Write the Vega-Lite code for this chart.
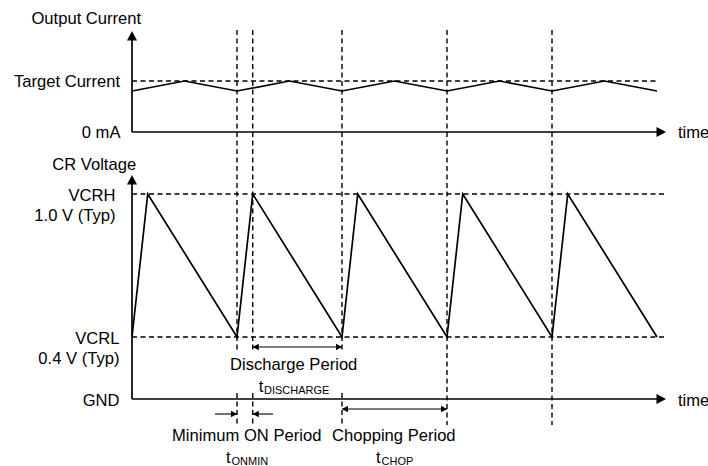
{
  "$schema": "https://vega.github.io/schema/vega-lite/v6.json",
  "width": 708,
  "height": 466,
  "padding": 0,
  "autosize": {"type": "none"},
  "background": "white",
  "config": {"view": {"stroke": null}, "text": {"font": "Liberation Sans"}},
  "datasets": {
    "dashed": [
      {"t": 0, "t2": 50, "level": 81, "level2": 81},
      {"t": 0, "t2": 50.95, "level": 194, "level2": 194},
      {"t": 0, "t2": 50.95, "level": 337, "level2": 337},
      {"t": 10, "t2": 10, "level": 30, "level2": 352},
      {"t": 10, "t2": 10, "level": 393, "level2": 425},
      {"t": 11.5, "t2": 11.5, "level": 30, "level2": 352},
      {"t": 11.5, "t2": 11.5, "level": 393, "level2": 425},
      {"t": 20, "t2": 20, "level": 30, "level2": 352},
      {"t": 20, "t2": 20, "level": 393, "level2": 425},
      {"t": 30, "t2": 30, "level": 30, "level2": 425},
      {"t": 40, "t2": 40, "level": 30, "level2": 425}
    ],
    "axes": [
      {"t": 0, "t2": 0, "level": 36, "level2": 132},
      {"t": 0, "t2": 50.4, "level": 132, "level2": 132},
      {"t": 0, "t2": 0, "level": 180, "level2": 399},
      {"t": 0, "t2": 50.4, "level": 399, "level2": 399}
    ],
    "spans": [
      {"t": 11.5, "t2": 20, "level": 347, "level2": 347},
      {"t": 20, "t2": 30, "level": 409, "level2": 409},
      {"t": 7.9, "t2": 10, "level": 414, "level2": 414},
      {"t": 11.5, "t2": 13.43, "level": 414, "level2": 414}
    ],
    "waves": [
      {"wave": "current", "i": 0, "t": 0, "level": 91},
      {"wave": "current", "i": 1, "t": 5, "level": 81},
      {"wave": "current", "i": 2, "t": 10, "level": 91},
      {"wave": "current", "i": 3, "t": 15, "level": 81},
      {"wave": "current", "i": 4, "t": 20, "level": 91},
      {"wave": "current", "i": 5, "t": 25, "level": 81},
      {"wave": "current", "i": 6, "t": 30, "level": 91},
      {"wave": "current", "i": 7, "t": 35, "level": 81},
      {"wave": "current", "i": 8, "t": 40, "level": 91},
      {"wave": "current", "i": 9, "t": 45, "level": 81},
      {"wave": "current", "i": 10, "t": 50, "level": 91},
      {"wave": "cr", "i": 0, "t": 0, "level": 337},
      {"wave": "cr", "i": 1, "t": 1.5, "level": 194},
      {"wave": "cr", "i": 2, "t": 10, "level": 337},
      {"wave": "cr", "i": 3, "t": 11.5, "level": 194},
      {"wave": "cr", "i": 4, "t": 20, "level": 337},
      {"wave": "cr", "i": 5, "t": 21.5, "level": 194},
      {"wave": "cr", "i": 6, "t": 30, "level": 337},
      {"wave": "cr", "i": 7, "t": 31.5, "level": 194},
      {"wave": "cr", "i": 8, "t": 40, "level": 337},
      {"wave": "cr", "i": 9, "t": 41.5, "level": 194},
      {"wave": "cr", "i": 10, "t": 50, "level": 337}
    ],
    "bigheads": [
      {"dir": "up", "t": 0, "level": 31},
      {"dir": "up", "t": 0, "level": 175},
      {"dir": "right", "t": 50.86, "level": 132},
      {"dir": "right", "t": 50.86, "level": 399}
    ],
    "smallheads": [
      {"dir": "left", "t": 11.5, "level": 347},
      {"dir": "right", "t": 20, "level": 347},
      {"dir": "left", "t": 20, "level": 409},
      {"dir": "right", "t": 30, "level": 409},
      {"dir": "right", "t": 10, "level": 414},
      {"dir": "left", "t": 11.5, "level": 414}
    ],
    "labels_right": [
      {"label": "Target Current", "t": -1.143, "level": 87},
      {"label": "0 mA", "t": -1.095, "level": 138},
      {"label": "VCRH", "t": -1.571, "level": 200.5},
      {"label": "1.0 V (Typ)", "t": -1.571, "level": 220.5},
      {"label": "VCRL", "t": -1.19, "level": 344},
      {"label": "0.4 V (Typ)", "t": -1.19, "level": 364},
      {"label": "GND", "t": -1.19, "level": 405.5},
      {"label": "t", "t": 12.524, "level": 391.5},
      {"label": "t", "t": 9.4, "level": 462.5},
      {"label": "t", "t": 23.686, "level": 462.5}
    ],
    "labels_center": [
      {"label": "Output Current", "t": -4.352, "level": 24},
      {"label": "CR Voltage", "t": -3.6, "level": 170},
      {"label": "Discharge Period", "t": 15.4, "level": 370},
      {"label": "Minimum ON Period", "t": 10.924, "level": 441},
      {"label": "Chopping Period", "t": 24.933, "level": 441}
    ],
    "labels_left": [
      {"label": "time", "t": 52.0, "level": 138},
      {"label": "time", "t": 52.0, "level": 405.5}
    ],
    "subs": [
      {"label": "DISCHARGE", "t": 12.571, "level": 393.5},
      {"label": "ONMIN", "t": 9.476, "level": 464.5},
      {"label": "CHOP", "t": 23.762, "level": 464.5}
    ]
  },
  "layer": [
    {
      "data": {"name": "dashed"},
      "mark": {"type": "rule", "color": "#000", "strokeWidth": 1.4, "strokeDash": [5, 3.5]},
      "encoding": {
        "x": {"field": "t", "type": "quantitative", "axis": null, "scale": {"domain": [-12.571, 54.857], "nice": false, "zero": false}},
        "x2": {"field": "t2"},
        "y": {"field": "level", "type": "quantitative", "axis": null, "scale": {"domain": [0, 466], "reverse": true, "nice": false, "zero": false}},
        "y2": {"field": "level2"}
      }
    },
    {
      "data": {"name": "axes"},
      "mark": {"type": "rule", "color": "#000", "strokeWidth": 1.7},
      "encoding": {
        "x": {"field": "t", "type": "quantitative", "axis": null},
        "x2": {"field": "t2"},
        "y": {"field": "level", "type": "quantitative", "axis": null},
        "y2": {"field": "level2"}
      }
    },
    {
      "data": {"name": "spans"},
      "mark": {"type": "rule", "color": "#000", "strokeWidth": 1.1},
      "encoding": {
        "x": {"field": "t", "type": "quantitative", "axis": null},
        "x2": {"field": "t2"},
        "y": {"field": "level", "type": "quantitative", "axis": null},
        "y2": {"field": "level2"}
      }
    },
    {
      "data": {"name": "waves"},
      "mark": {"type": "line", "color": "#000", "strokeWidth": 1.7, "strokeJoin": "miter"},
      "encoding": {
        "x": {"field": "t", "type": "quantitative", "axis": null},
        "y": {"field": "level", "type": "quantitative", "axis": null},
        "detail": {"field": "wave"},
        "order": {"field": "i", "type": "quantitative"}
      }
    },
    {
      "data": {"name": "bigheads"},
      "mark": {"type": "point", "filled": true, "color": "#000", "opacity": 1, "size": 100},
      "encoding": {
        "x": {"field": "t", "type": "quantitative", "axis": null},
        "y": {"field": "level", "type": "quantitative", "axis": null},
        "shape": {"field": "dir", "type": "nominal", "legend": null, "scale": {"domain": ["up", "right", "left"], "range": ["M0,0L-1,1.9L1,1.9Z", "M0,0L-1.9,-1L-1.9,1Z", "M0,0L1.9,-1L1.9,1Z"]}}
      }
    },
    {
      "data": {"name": "smallheads"},
      "mark": {"type": "point", "filled": true, "color": "#000", "opacity": 1, "size": 40},
      "encoding": {
        "x": {"field": "t", "type": "quantitative", "axis": null},
        "y": {"field": "level", "type": "quantitative", "axis": null},
        "shape": {"field": "dir", "type": "nominal", "legend": null, "scale": {"domain": ["up", "right", "left"], "range": ["M0,0L-1,1.9L1,1.9Z", "M0,0L-1.9,-1L-1.9,1Z", "M0,0L1.9,-1L1.9,1Z"]}}
      }
    },
    {
      "data": {"name": "labels_right"},
      "mark": {"type": "text", "align": "right", "baseline": "alphabetic", "fontSize": 16.6, "color": "#000"},
      "encoding": {
        "x": {"field": "t", "type": "quantitative", "axis": null},
        "y": {"field": "level", "type": "quantitative", "axis": null},
        "text": {"field": "label"}
      }
    },
    {
      "data": {"name": "labels_center"},
      "mark": {"type": "text", "align": "center", "baseline": "alphabetic", "fontSize": 16.6, "color": "#000"},
      "encoding": {
        "x": {"field": "t", "type": "quantitative", "axis": null},
        "y": {"field": "level", "type": "quantitative", "axis": null},
        "text": {"field": "label"}
      }
    },
    {
      "data": {"name": "labels_left"},
      "mark": {"type": "text", "align": "left", "baseline": "alphabetic", "fontSize": 16.6, "color": "#000"},
      "encoding": {
        "x": {"field": "t", "type": "quantitative", "axis": null},
        "y": {"field": "level", "type": "quantitative", "axis": null},
        "text": {"field": "label"}
      }
    },
    {
      "data": {"name": "subs"},
      "mark": {"type": "text", "align": "left", "baseline": "alphabetic", "fontSize": 11, "color": "#000"},
      "encoding": {
        "x": {"field": "t", "type": "quantitative", "axis": null},
        "y": {"field": "level", "type": "quantitative", "axis": null},
        "text": {"field": "label"}
      }
    }
  ]
}
